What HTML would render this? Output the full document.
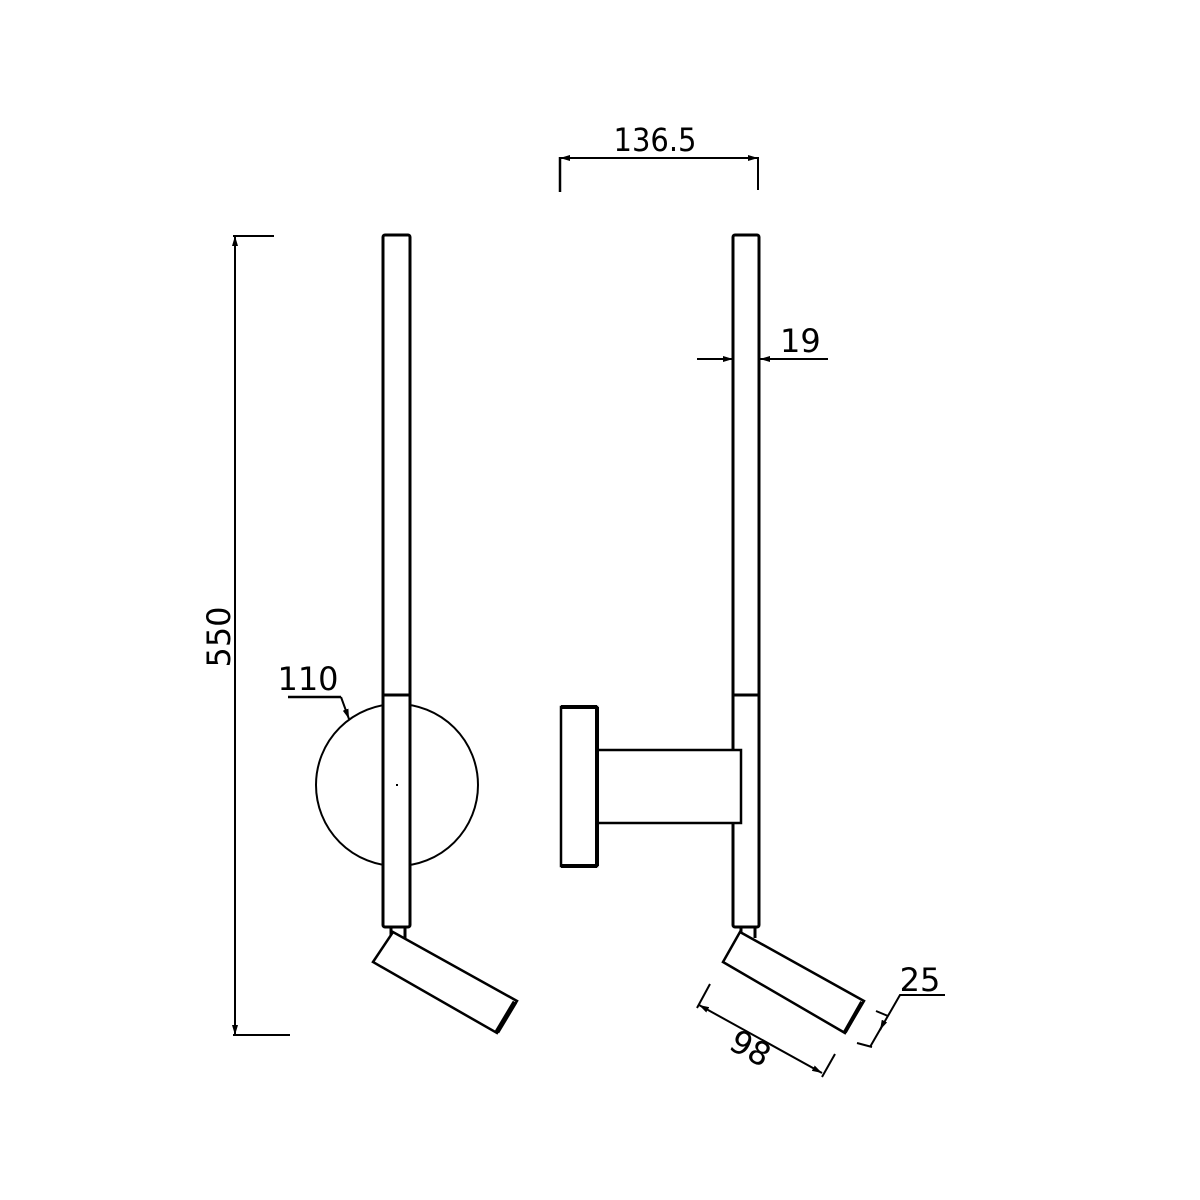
<!DOCTYPE html>
<html><head><meta charset="utf-8"><style>
html,body{margin:0;padding:0;background:#fff;}
svg{display:block}
text{font-family:"DejaVu Sans","Liberation Sans",sans-serif;fill:#000}
</style></head><body>
<svg width="1200" height="1200" viewBox="0 0 1200 1200" xmlns="http://www.w3.org/2000/svg">
<defs>
<marker id="ar" viewBox="0 0 10 6" refX="10" refY="3" markerWidth="10" markerHeight="6" orient="auto-start-reverse" markerUnits="userSpaceOnUse">
<path d="M0,0 L10,3 L0,6 z" fill="#000"/>
</marker>
</defs>
<g fill="none" stroke="#000" stroke-width="2.5">
<line x1="235" y1="236" x2="235" y2="1035" stroke-width="2" marker-start="url(#ar)" marker-end="url(#ar)"/>
<line x1="233" y1="236" x2="274" y2="236" stroke-width="2"/>
<line x1="233" y1="1035" x2="290" y2="1035" stroke-width="2"/>

<circle cx="397" cy="785" r="81" fill="#fff" stroke-width="2"/>
<rect x="383" y="235" width="27" height="692" rx="2" fill="#fff" stroke-width="3"/>
<line x1="383" y1="695" x2="410" y2="695" stroke-width="3"/>
<rect x="396" y="784" width="2" height="2" fill="#000" stroke="none"/>
<line x1="391" y1="927" x2="391" y2="936" stroke-width="3"/>
<line x1="405" y1="927" x2="405" y2="938" stroke-width="3"/>
<polygon points="373,962 393,932 517,1001 497,1033" fill="#fff" stroke-width="2.5"/>
<line x1="515" y1="1002" x2="497" y2="1032" stroke-width="5"/>
<line x1="288" y1="697" x2="341" y2="697" stroke-width="2.5"/>
<line x1="341" y1="697" x2="349" y2="719" stroke-width="2" marker-end="url(#ar)"/>

<line x1="560" y1="158" x2="758" y2="158" stroke-width="2" marker-start="url(#ar)" marker-end="url(#ar)"/>
<line x1="560" y1="157" x2="560" y2="192" stroke-width="2.5"/>
<line x1="758" y1="157" x2="758" y2="190" stroke-width="2"/>

<rect x="733" y="235" width="26" height="692" rx="2" fill="#fff" stroke-width="3"/>
<line x1="733" y1="695" x2="759" y2="695" stroke-width="3"/>
<rect x="597" y="750" width="144" height="73" fill="#fff" stroke-width="2.5"/>
<rect x="561" y="707" width="36" height="159" fill="#fff" stroke-width="2.5"/>
<line x1="561" y1="707" x2="597" y2="707" stroke-width="4"/>
<line x1="561" y1="866" x2="597" y2="866" stroke-width="4"/>
<line x1="597" y1="707" x2="597" y2="866" stroke-width="4"/>
<line x1="741" y1="927" x2="741" y2="936" stroke-width="3"/>
<line x1="755" y1="927" x2="755" y2="938" stroke-width="3"/>
<polygon points="723,962 740,932 864,1001 845,1033" fill="#fff" stroke-width="2.5"/>
<line x1="862" y1="1002" x2="845" y2="1032" stroke-width="4"/>

<line x1="697" y1="359" x2="733" y2="359" stroke-width="2" marker-end="url(#ar)"/>
<line x1="828" y1="359" x2="760" y2="359" stroke-width="2" marker-end="url(#ar)"/>

<line x1="699" y1="1005" x2="822" y2="1073" stroke-width="2" marker-start="url(#ar)" marker-end="url(#ar)"/>
<line x1="710" y1="984" x2="697" y2="1008" stroke-width="2"/>
<line x1="835" y1="1054" x2="822" y2="1077" stroke-width="2"/>

<polyline points="945,995 900,995 870,1047" stroke-width="2"/>
<line x1="884" y1="1022" x2="880" y2="1030" stroke-width="2" marker-end="url(#ar)"/>
<line x1="857" y1="1043" x2="872" y2="1047" stroke-width="2"/>
<line x1="876" y1="1011" x2="888" y2="1016" stroke-width="2"/>
</g>
<text x="655" y="151" font-size="32" text-anchor="middle" textLength="83" lengthAdjust="spacingAndGlyphs">136.5</text>
<text x="780" y="352" font-size="32">19</text>
<text x="308" y="690" font-size="32" text-anchor="middle">110</text>
<text x="920" y="991" font-size="32" text-anchor="middle">25</text>
<text transform="translate(230,637) rotate(-90)" font-size="32" text-anchor="middle">550</text>
<text transform="translate(745,1058) rotate(29)" font-size="32" text-anchor="middle">98</text>
</svg>
</body></html>
